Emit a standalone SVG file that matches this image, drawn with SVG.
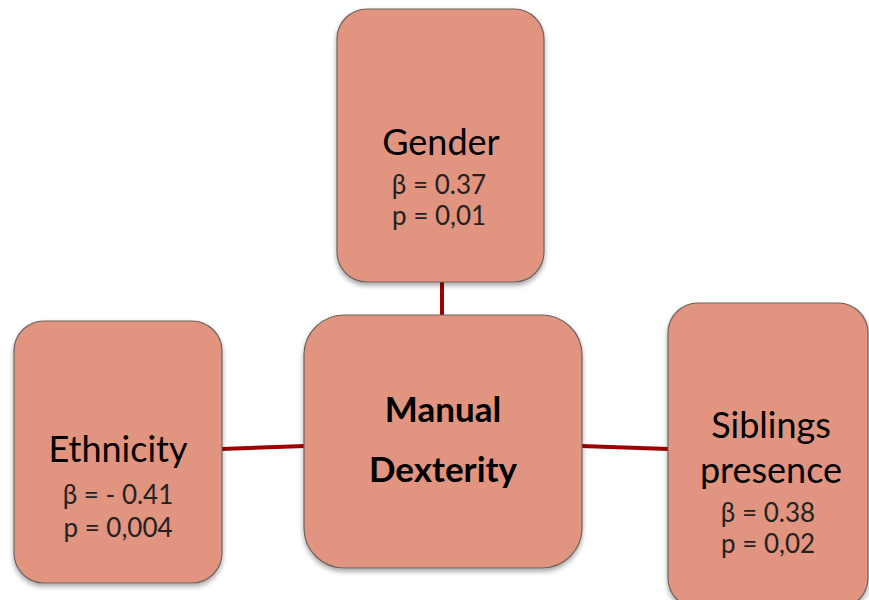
<svg xmlns="http://www.w3.org/2000/svg" width="869" height="600" viewBox="0 0 869 600">
<defs>
<filter id="sh" x="-10%" y="-10%" width="120%" height="125%">
<feDropShadow dx="0" dy="3" stdDeviation="2.5" flood-color="#000" flood-opacity="0.35"/>
</filter>
<style>
.box{fill:#e1947f;stroke:#6e625f;stroke-width:1.2;filter:url(#sh)}
.t{font-family:Lato,"Open Sans","Liberation Sans",sans-serif;text-anchor:middle;fill:#000}
.big{font-size:36px}
.bold{font-size:35px;font-weight:bold}
.sm{font-size:26px;fill:#222}
.con{stroke:#9c0000;stroke-width:4;fill:none}
</style>
</defs>
<rect width="869" height="600" fill="#fff"/>
<g id="connectors">
<line class="con" x1="442" y1="282" x2="442" y2="316"/>
<line class="con" x1="221" y1="449" x2="305" y2="446"/>
<line class="con" x1="581" y1="446" x2="669" y2="449"/>
</g>
<g id="gender">
<rect class="box" x="337" y="9" width="207" height="273" rx="30"/>
<text class="t big" x="441" y="155">Gender</text>
<text class="t sm" x="439" y="194">β = 0.37</text>
<text class="t sm" x="439" y="225">p = 0,01</text>
</g>
<g id="ethnicity">
<rect class="box" x="14" y="321" width="208" height="262" rx="30"/>
<text class="t big" x="118" y="462">Ethnicity</text>
<text class="t sm" x="118" y="504">β = - 0.41</text>
<text class="t sm" x="118" y="537">p = 0,004</text>
</g>
<g id="manual">
<rect class="box" x="304" y="315" width="278" height="253" rx="40"/>
<text class="t bold" x="443" y="422">Manual</text>
<text class="t bold" x="443" y="482">Dexterity</text>
</g>
<g id="siblings">
<rect class="box" x="668" y="303" width="200" height="305" rx="30"/>
<text class="t big" x="771" y="438">Siblings</text>
<text class="t big" x="771" y="483">presence</text>
<text class="t sm" x="768" y="522">β = 0.38</text>
<text class="t sm" x="768" y="553">p = 0,02</text>
</g>
</svg>
